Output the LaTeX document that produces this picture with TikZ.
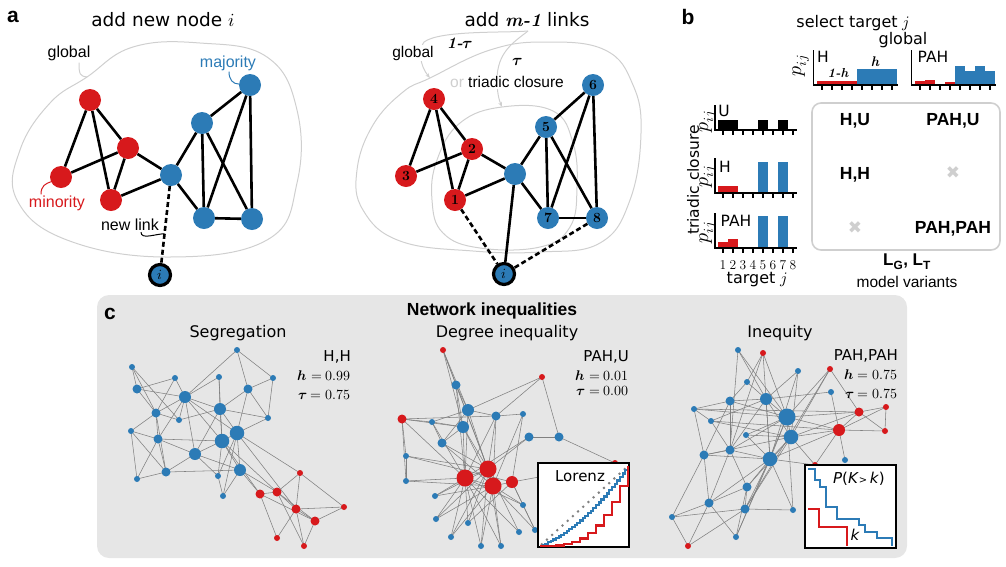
\documentclass[tikz,border=0pt]{standalone}
\usepackage{fontspec}
\usepackage{unicode-math}
\setmathfont{Latin Modern Math}
\setsansfont{Liberation Sans}
\newfontfamily\dvfont{DejaVu Sans}
\renewcommand{\familydefault}{\sfdefault}
\usetikzlibrary{positioning, arrows.meta, calc, backgrounds}
\definecolor{mRed}{HTML}{D7191C}
\definecolor{mBlue}{HTML}{2C7BB6}
\definecolor{mLine}{HTML}{CFCFCF}
\definecolor{mPanel}{HTML}{E6E6E6}
\definecolor{mEdge}{HTML}{808080}
\newcommand{\fsz}[1]{\fontsize{#1}{#1}\selectfont}

\begin{document}
\begin{tikzpicture}[x=1pt, y=-1pt,
  panel/.style={font=\bfseries\fsz{21}},
  title/.style={font=\dvfont\fsz{18.5}},
  lbl/.style={font=\fsz{16}, inner sep=1pt},
  dvl/.style={font=\dvfont\fsz{16}, inner sep=1pt},
  rv/.style={circle, fill=mRed, minimum size=22pt, inner sep=0pt,
             font=\rmfamily\bfseries\fsz{14}},
  bv/.style={rv, fill=mBlue},
  newv/.style={circle, fill=mBlue, draw=black, line width=3.2pt,
               minimum size=21pt, inner sep=0pt, font=\fsz{14}},
  link/.style={line width=2.6pt},
  newlink/.style={link, dash pattern=on 5pt off 3pt},
  blob/.style={draw=mLine, line width=1pt},
  callout/.style={line width=1pt},
  axis/.style={line width=1.2pt},
  var/.style={font=\bfseries\fsz{17.5}},
  param/.style={anchor=east, font=\fsz{14}, inner sep=1pt},
  dot/.style={circle, inner sep=0pt},
  ns/.style={minimum size=6pt}, nm/.style={minimum size=9pt},
  nl/.style={minimum size=12pt}, nx/.style={minimum size=14.5pt},
  nh/.style={minimum size=17pt},
  nlink/.style={mEdge, line width=0.55pt},
  inset/.style={draw=black, fill=white, line width=1.3pt, inner sep=0pt},
  >=Stealth,
]
  \useasboundingbox (0,0) rectangle (1006,566);

  % Panel c background
  \begin{scope}[on background layer]
    \fill[mPanel, rounded corners=12pt] (97,295) rectangle (907,558);
  \end{scope}

  % a: add new node
  \node[panel] (pa) at (13,17) {a};
  \node[title] (ta) at (163,20) {add new node $i$};
  \draw[blob] plot[smooth cycle, tension=0.7] coordinates {(87,77) (133,47) (200,43)
    (267,57) (297,110) (297,183) (267,240) (167,257) (67,240) (17,200) (20,150) (50,103)};
  \coordinate (ga) at (87,77);

  \node[rv] (a1) at (90,100) {};
  \node[rv] (a2) at (128,148) {};
  \node[rv] (a3) at (61,177) {};
  \node[rv] (a4) at (111,200) {};
  \node[bv] (a5) at (171,175) {};
  \node[bv] (a6) at (202,123) {};
  \node[bv] (a7) at (250,85) {};
  \node[bv] (a8) at (204,218) {};
  \node[bv] (a9) at (252,219) {};
  \node[newv] (ai) at (160,275) {$i$};
  \foreach \u/\v in {a1/a3,a1/a4,a1/a2,a2/a3,a2/a4,a2/a5,a4/a5,a5/a6,a5/a8,
                     a6/a7,a6/a8,a6/a9,a7/a8,a7/a9,a8/a9}
    \draw[link] (\u) -- (\v);
  \draw[newlink] (a5) -- (ai) coordinate[pos=0.62] (nl);

  \node[lbl] (glA) at (69,53) {global};
  \draw[callout, mLine] ($(glA.south)+(10,1)$) .. controls +(0,12) and +(-7,-1) .. (ga);
  \node[lbl, text=mRed] (minor) at (57,203) {minority};
  \draw[callout, mRed] ($(minor.north)+(-16,0)$) .. controls +(0,-9) and +(-5,2) .. (a3.205);
  \node[lbl, text=mBlue] (major) at (228,63) {majority};
  \draw[callout, mBlue] ($(major.south)+(1,0)$) .. controls +(0,8) and +(-6,0) .. (a7.175);
  \node[lbl] (nlab) at (130,225) {new link};
  \draw[callout] ($(nlab.south)+(11,0)$) .. controls +(0,8) and +(-9,0) .. (nl);

  % a: add m-1 links
  \node[title] (tb) at (527,20) {add {\rmfamily\bfseries\itshape m-1} links};
  \draw[blob] plot[smooth cycle, tension=0.7] coordinates {(430,78) (490,50) (545,42)
    (605,50) (633,85) (641,133) (630,200) (600,243) (540,252) (473,251) (400,241)
    (363,210) (357,170) (373,125) (403,92)};
  \draw[blob] plot[smooth cycle, tension=0.7] coordinates {(502,107) (553,111) (573,143)
    (577,187) (570,227) (540,247) (480,248) (443,233) (432,200) (437,160) (460,123)};
  \coordinate (gb) at (430,78);
  \coordinate (tcl) at (502,107);
  \coordinate (fork) at (528,31);
  \draw[callout, mLine, -{Stealth[length=5pt]}] (fork) .. controls (505,33) and (440,30)
    .. (424,42) .. controls (418,50) and (420,66) .. (gb);
  \draw[callout, mLine, -{Stealth[length=5pt]}] (fork) .. controls (514,42) and (497,52)
    .. (497,80) .. controls (497,92) and (499,100) .. (tcl);

  \node[rv] (m4) at (434,99) {4};
  \node[rv] (m2) at (472,149) {2};
  \node[rv] (m3) at (406,176) {3};
  \node[rv] (m1) at (455,200) {1};
  \node[bv] (mc) at (515,174) {};
  \node[bv] (m5) at (546,127) {5};
  \node[bv] (m6) at (593,85) {6};
  \node[bv] (m7) at (548,218) {7};
  \node[bv] (m8) at (597,218) {8};
  \node[newv] (mi) at (504,274) {$i$};
  \foreach \u/\v in {m4/m3,m4/m1,m4/m2,m2/m3,m2/m1,m2/mc,m1/mc,mc/m5,mc/m7,mc/mi,
                     m5/m6,m5/m7,m5/m8,m6/m7,m6/m8,m7/m8}
    \draw[link] (\u) -- (\v);
  \draw[newlink] (m1) -- (mi);
  \draw[newlink] (m8) -- (mi);

  \node[font=\fsz{15.5}, fill=white, inner sep=1pt] (glB) at (413,53) {global};
  \node[font=\rmfamily\bfseries\itshape\fsz{16}] (omt) at (460,43) {1-$\symbfit{\tau}$};
  \node[font=\fsz{16}] (tau) at (518,62) {$\symbfit{\tau}$};
  \node[font=\fsz{15.5}, fill=white, inner sep=1pt] (tcB) at (507,82)
    {{\color{mLine}or} triadic closure};

  % b: select target
  \node[panel] (pb) at (688,17) {b};
  \node[dvl] (selt) at (853,23) {select target $j$};
  \node[dvl] (glC) at (903,40) {global};
  \foreach \k/\h/\c in {1/4/mRed,2/4/mRed,3/4/mRed,4/4/mRed,
                        5/16/mBlue,6/16/mBlue,7/16/mBlue,8/16/mBlue}
    \fill[\c] ({812+10*\k-4.7},85) rectangle ++(9.4,-\h);
  \foreach \k/\h/\c in {1/4/mRed,2/5/mRed,3/1/mRed,4/3/mRed,
                        5/19/mBlue,6/14/mBlue,7/19/mBlue,8/14/mBlue}
    \fill[\c] ({910+10*\k-4.7},85) rectangle ++(9.4,-\h);
  \foreach \o in {812,910} {
    \draw[axis] ({\o+1.5},50) -- ({\o+1.5},85) -- ({\o+86},85);
    \foreach \k in {1,...,8} \draw[axis] ({\o+10*\k},85) -- ++(0,5);
  }
  \node[font=\dvfont\fsz{15.5}] (hH) at (823,57) {H};
  \node[font=\dvfont\fsz{15.5}] (hP) at (933,57) {PAH};
  \node[font=\rmfamily\bfseries\itshape\fsz{13}] (omh) at (838,73) {1-h};
  \node[font=\rmfamily\bfseries\itshape\fsz{14}] (hh) at (875,62) {h};
  \node[rotate=90, font=\fsz{20}] (pyT) at (801,66) {$p_{ij}$};

  % triadic closure charts
  \foreach \k/\h/\c in {1/10/black,2/10/black,5/10/black,7/10/black}
    \fill[\c] ({713+10*\k-4.7},130) rectangle ++(9.4,-\h);
  \foreach \k/\h/\c in {1/7.5/mRed,2/7.5/mRed,5/31/mBlue,7/31/mBlue}
    \fill[\c] ({713+10*\k-4.7},193) rectangle ++(9.4,-\h);
  \foreach \k/\h/\c in {1/6/mRed,2/9/mRed,5/32/mBlue,7/32/mBlue}
    \fill[\c] ({713+10*\k-4.7},248) rectangle ++(9.4,-\h);
  \foreach \ya/\yb in {105/130,158/193,213/248} {
    \draw[axis] (715,\ya) -- (715,\yb) -- (797,\yb);
    \foreach \k in {1,...,8} \draw[axis] ({713+10*\k},\yb) -- ++(0,5);
  }
  \node[font=\dvfont\fsz{15.5}] (lU) at (724,111) {U};
  \node[font=\dvfont\fsz{15.5}] (lH) at (725,167) {H};
  \node[font=\dvfont\fsz{15.5}] (lP) at (736,221) {PAH};
  \foreach \y [count=\n] in {122,177,233}
    \node[rotate=90, font=\fsz{20}] (py\n) at (708,\y) {$p_{ij}$};
  \node[rotate=90, font=\dvfont\fsz{15.5}] (trc) at (693,180) {triadic closure};
  \foreach \k in {1,...,8}
    \node[font=\rmfamily\fsz{13.5}] (tk\k) at ({713+10*\k},265) {\k};
  \node[font=\dvfont\fsz{16}] (tgt) at (757,280) {target $j$};

  % model variants
  \draw[mLine, line width=1.6pt, rounded corners=9pt] (812,103) rectangle (1000,250);
  \node[var] (vHU) at (855,121) {H,U};
  \node[var] (vPU) at (953,121) {PAH,U};
  \node[var] (vHH) at (855,175) {H,H};
  \node[var] (vPP) at (953,229) {PAH,PAH};
  \node[text=mLine, font=\dvfont\fsz{17}] (xHP) at (953,173) {✖};
  \node[text=mLine, font=\dvfont\fsz{17}] (xPH) at (855,228) {✖};
  \node[font=\bfseries\fsz{17}, inner sep=0pt] (lglt) at (907,262)
    {L\textsubscript{G}, L\textsubscript{T}};
  \node[font=\fsz{15.5}, inner sep=0pt] (mv) at (907,282) {model variants};

  % c: network inequalities
  \node[panel] (pc) at (110,314) {c};
  \node[font=\bfseries\fsz{17.5}] (tc) at (492,311) {Network inequalities};
  \node[font=\dvfont\fsz{16}] (seg) at (238,333) {Segregation};
  \node[font=\dvfont\fsz{16}] (deg) at (507,333) {Degree inequality};
  \node[font=\dvfont\fsz{16}] (ineq) at (780,333) {Inequity};

  % segregation network
  \foreach \n/\x/\y/\s/\c in {1/132/367/ns/mBlue, 2/175/378/ns/mBlue, 3/219/377/ns/mBlue,
      4/237/350/ns/mBlue, 5/273/378/ns/mBlue, 6/137/389/nm/mBlue, 7/185/397/nl/mBlue,
      8/248/389/nm/mBlue, 9/156/413/nm/mBlue, 10/220/409/nl/mBlue, 11/179/420/ns/mBlue,
      12/268/418/ns/mBlue, 13/131/431/ns/mBlue, 14/158/439/nm/mBlue, 15/237/433/nx/mBlue,
      16/222/441/nx/mBlue, 17/195/454/nl/mBlue, 18/166/472/nm/mBlue, 19/137/479/ns/mBlue,
      20/218/476/ns/mBlue, 21/240/470/nl/mBlue, 22/223/496/ns/mBlue, 23/300/473/ns/mRed,
      24/260/494/nm/mRed, 25/277/492/nm/mRed, 26/296/509/nm/mRed, 27/344/507/ns/mRed,
      28/315/521/nm/mRed, 29/277/538/ns/mRed, 30/304/546/ns/mRed}
    \node[dot, \s, fill=\c] (s\n) at (\x,\y) {};
  \begin{scope}[on background layer]
  \foreach \u/\v in {1/6,1/9,1/11,2/6,2/7,2/9,3/7,3/10,3/16,4/7,4/8,4/5,5/8,5/12,6/7,6/9,
      7/9,7/10,7/11,7/14,7/15,7/16,7/17,8/10,8/12,8/15,9/11,9/13,9/14,9/18,10/11,10/12,
      10/15,10/16,10/17,13/14,13/18,13/19,14/16,14/17,14/18,14/19,15/16,15/12,15/20,15/21,
      15/22,15/23,15/26,16/17,16/20,16/21,16/24,16/25,17/18,17/20,17/21,18/19,18/21,20/22,
      21/22,21/24,21/25,23/25,23/26,23/27,24/25,24/28,24/29,25/26,25/28,25/30,26/27,26/28,
      26/29,26/30,27/28,28/30}
    \draw[nlink] (s\u.center) -- (s\v.center);
  \end{scope}
  \node[param, font=\dvfont\fsz{15}] (pS) at (352,357) {H,H};
  \node[param] (hS) at (352,376) {$\symbfit{h} = 0.99$};
  \node[param] (tS) at (352,395) {$\symbfit{\tau} = 0.75$};

  % degree inequality network
  \foreach \n/\x/\y/\s/\c in {1/443/350/ns/mRed, 2/456/385/nm/mBlue, 3/468/410/nl/mBlue,
      4/542/377/ns/mRed, 5/402/419/nm/mRed, 6/432/422/ns/mBlue, 7/463/427/nl/mBlue,
      8/496/416/nm/mBlue, 9/523/414/ns/mBlue, 10/442/443/nm/mBlue, 11/529/437/nm/mBlue,
      12/559/437/nm/mBlue, 13/406/456/ns/mBlue, 14/615/463/ns/mRed, 15/465/478/nh/mRed,
      16/488/469/nh/mRed, 17/493/486/nh/mRed, 18/512/482/nl/mRed, 19/406/481/ns/mBlue,
      20/435/496/ns/mBlue, 21/523/505/ns/mBlue, 22/436/519/ns/mBlue, 23/468/523/ns/mBlue,
      24/519/532/ns/mBlue, 25/535/530/ns/mBlue, 26/451/537/ns/mBlue, 27/481/546/ns/mBlue,
      28/501/546/ns/mBlue}
    \node[dot, \s, fill=\c] (d\n) at (\x,\y) {};
  \begin{scope}[on background layer]
  \foreach \u/\v in {1/2,1/3,1/7,1/16,2/3,2/7,2/16,2/15,3/4,3/6,3/8,3/15,3/17,3/10,7/6,
      7/10,7/15,7/16,7/17,5/6,5/13,5/7,5/8,5/15,5/19,6/10,6/15,8/9,8/15,8/17,8/16,9/17,
      9/18,10/16,10/17,11/12,11/16,11/15,4/12,4/8,12/14,13/19,13/16,13/18,19/15,19/17,
      20/15,20/16,20/17,22/15,22/16,22/17,23/15,23/16,23/18,26/15,26/17,26/16,27/15,27/16,
      27/17,28/15,28/17,28/16,24/16,24/15,21/15,21/17,25/17,25/18,18/14,18/25,18/17,16/17,
      15/16,15/17}
    \draw[nlink] (d\u.center) -- (d\v.center);
  \end{scope}
  \node[param, font=\dvfont\fsz{15}] (pD) at (630,357) {PAH,U};
  \node[param] (hD) at (630,376) {$\symbfit{h} = 0.01$};
  \node[param] (tD) at (630,391) {$\symbfit{\tau} = 0.00$};

  % inequity network
  \foreach \n/\x/\y/\s/\c in {1/738/350/ns/mBlue, 2/763/353/ns/mRed, 3/798/371/ns/mBlue,
      4/830/369/ns/mRed, 5/747/382/ns/mBlue, 6/831/392/ns/mBlue, 7/730/401/nm/mBlue,
      8/766/399/nl/mBlue, 9/694/409/ns/mBlue, 10/787/417/nh/mBlue, 11/711/421/ns/mBlue,
      12/839/430/nl/mRed, 13/791/437/nx/mBlue, 14/746/435/ns/mBlue, 15/704/455/nm/mBlue,
      16/730/450/nm/mBlue, 17/770/459/nx/mBlue, 18/747/487/nm/mBlue, 19/793/510/ns/mBlue,
      20/709/503/nm/mBlue, 21/745/509/nm/mBlue, 22/672/517/ns/mBlue, 23/736/537/ns/mBlue,
      24/688/546/ns/mRed, 25/859/412/nm/mRed, 26/886/407/ns/mRed, 27/885/431/ns/mRed,
      28/845/460/ns/mBlue, 29/815/465/ns/mRed}
    \node[dot, \s, fill=\c] (q\n) at (\x,\y) {};
  \begin{scope}[on background layer]
  \foreach \u/\v in {1/8,1/10,1/16,2/5,2/16,2/10,2/17,3/8,3/13,3/17,4/10,4/13,4/21,5/7,
      5/8,6/8,6/12,7/8,7/9,7/10,7/15,7/16,8/10,8/11,8/13,8/16,8/17,9/10,9/11,9/15,9/25,
      10/12,10/13,10/16,10/17,10/25,10/14,11/13,11/16,11/12,12/13,12/17,12/25,12/26,12/27,
      12/28,12/29,13/14,13/15,13/17,13/21,13/18,14/17,15/16,15/20,15/22,15/17,16/17,16/18,
      16/20,17/18,17/19,17/20,17/21,17/23,17/29,18/20,18/21,18/23,19/21,20/22,20/24,20/23,
      21/22,22/24,23/10,25/26,25/27,25/4,25/13,26/27,29/13,19/10,21/24}
    \draw[nlink] (q\u.center) -- (q\v.center);
  \end{scope}
  \node[param, font=\dvfont\fsz{15}] (pQ) at (899,356) {PAH,PAH};
  \node[param] (hQ) at (899,375) {$\symbfit{h} = 0.75$};
  \node[param] (tQ) at (899,394) {$\symbfit{\tau} = 0.75$};

  % Lorenz inset
  \node[inset, minimum width=91pt, minimum height=84pt] (lor) at (583.5,505) {};
  \begin{scope}
    \clip ($(lor.south west)+(0.7,-0.7)$) rectangle ($(lor.north east)+(-0.7,0.7)$);
    \draw[mEdge, line width=2pt, dash pattern=on 2pt off 5pt] (541,545) -- (627,467);
    \draw[mBlue, line width=2.2pt, const plot] plot[domain=0:1, samples=34]
      ({540+88*\x},{546-80*(0.45*\x+0.55*\x*\x)});
    \draw[mRed, line width=2.2pt, const plot] plot[domain=0:1, samples=12]
      ({540+88*\x},{546-80*\x*\x*\x});
  \end{scope}
  \node[font=\dvfont\fsz{15}] (lorT) at (580,476) {Lorenz};

  % P(K>k) inset
  \node[inset, minimum width=91pt, minimum height=83pt] (ccdf) at (850.5,506.5) {};
  \draw[mBlue, line width=2.2pt] (808,469) -| (815,480) -| (820,487) -| (826,507)
    -| (837,519) -| (859,525) -| (865,532) -| (877,538) -| (892,546);
  \draw[mRed, line width=2.2pt] (808,509) -| (819,527) -| (847,546);
  \node[font=\dvfont\fsz{15}] (pk) at (859,479) {\textit{P}(\textit{K}{\fsz{10}>}\,\textit{k})};
  \node[font=\dvfont\itshape\fsz{15}] (kk) at (855,535) {k};
\end{tikzpicture}
\end{document}
